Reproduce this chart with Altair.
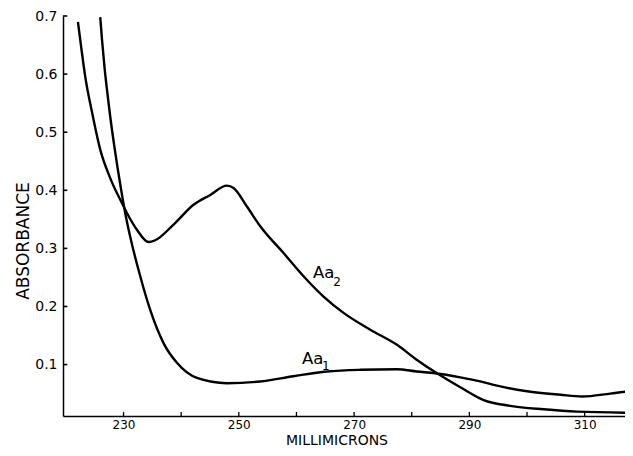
import altair as alt
import pandas as pd

# ---- data ----
AA1_NM = [225.96, 226.27, 226.70, 227.07, 227.69, 228.49, 229.50, 230.29, 231.16, 232.9,
          234.63, 236.94, 239.27, 242.74, 247.94, 253.72, 259.5, 265.29, 271.07, 277.44,
          280.91, 284.09, 288.43, 291.9, 294.2, 300.0, 305.78, 309.54, 314.45, 318.44]
AA1_ABS = [0.698, 0.659, 0.612, 0.578, 0.527, 0.470, 0.406, 0.361, 0.320, 0.252,
           0.194, 0.137, 0.103, 0.077, 0.068, 0.071, 0.080, 0.088, 0.091, 0.092,
           0.088, 0.085, 0.078, 0.071, 0.065, 0.054, 0.048, 0.045, 0.050, 0.055]

AA2_NM = [222.09, 222.61, 223.35, 224.52, 225.96, 227.69, 229.72, 230.59, 232.33, 234.34,
          235.5, 238.68, 242.15, 245.04, 247.94, 249.09, 251.41, 253.72, 257.76, 261.23,
          264.7, 268.17, 272.81, 277.44, 280.91, 284.38, 288.43, 292.47, 297.1, 302.88,
          308.67, 318.44]
AA2_ABS = [0.690, 0.650, 0.596, 0.535, 0.470, 0.421, 0.378, 0.361, 0.332, 0.311,
           0.314, 0.341, 0.375, 0.392, 0.408, 0.404, 0.372, 0.338, 0.292, 0.252,
           0.217, 0.189, 0.160, 0.134, 0.108, 0.085, 0.061, 0.039, 0.029, 0.023,
           0.019, 0.017]

X_LABEL_VALUES = [230, 250, 270, 290, 310]
X_TICK_VALUES = [230, 240, 250, 260, 270, 280, 290, 300, 310]
Y_TICK_VALUES = [0.1, 0.2, 0.3, 0.4, 0.5, 0.6, 0.7]

LABEL_TEXT = ["Aa", "Aa"]
LABEL_NM = [262.87, 260.96]
LABEL_ABS = [0.2498, 0.1008]
SUB_TEXT = ["2", "1"]
SUB_NM = [266.39, 264.43]
SUB_ABS = [0.236, 0.091]

X_DOMAIN = [219.5, 317.0]
Y_DOMAIN = [0.0115, 0.7]

FONT = "DejaVu Sans"

# ---- tables ----
lines_df = pd.DataFrame({
    "nm": AA1_NM + AA2_NM,
    "abs": AA1_ABS + AA2_ABS,
    "series": ["Aa1"] * len(AA1_NM) + ["Aa2"] * len(AA2_NM),
})
labels_df = pd.DataFrame({"nm": LABEL_NM, "abs": LABEL_ABS, "text": LABEL_TEXT})
subs_df = pd.DataFrame({"nm": SUB_NM, "abs": SUB_ABS, "text": SUB_TEXT})
xticks_df = pd.DataFrame({"nm": X_TICK_VALUES,
                          "y0": [Y_DOMAIN[0]] * len(X_TICK_VALUES),
                          "y1": [Y_DOMAIN[0] + 0.007] * len(X_TICK_VALUES)})
yticks_df = pd.DataFrame({"abs": Y_TICK_VALUES,
                          "x0": [X_DOMAIN[0]] * len(Y_TICK_VALUES),
                          "x1": [X_DOMAIN[0] + 0.75] * len(Y_TICK_VALUES)})

xscale = alt.Scale(domain=X_DOMAIN, nice=False, zero=False)
yscale = alt.Scale(domain=Y_DOMAIN, nice=False, zero=False)

x_axis = alt.Axis(values=X_LABEL_VALUES, format="d", title="MILLIMICRONS",
                  ticks=False, tickSize=0, labelPadding=3, labelFontSize=12,
                  labelFont=FONT, labelColor="black",
                  titleFont=FONT, titleFontSize=14, titleFontWeight="normal",
                  titleColor="black", titleX=273.5, titleY=28.5,
                  titleBaseline="alphabetic", titleAnchor="middle", titleAlign="center")
y_axis = alt.Axis(values=Y_TICK_VALUES, format=".1f", title="ABSORBANCE",
                  ticks=False, tickSize=0, labelPadding=6, labelFontSize=14,
                  labelFont=FONT, labelColor="black",
                  titleFont=FONT, titleFontSize=17, titleFontWeight="normal",
                  titleColor="black", titleX=-35, titleY=224.5,
                  titleBaseline="alphabetic", titleAlign="center", titleAngle=270)

lines = alt.Chart(lines_df).mark_line(
    color="black", strokeWidth=2.4, interpolate="monotone", clip=True
).encode(
    x=alt.X("nm:Q", scale=xscale, axis=x_axis),
    y=alt.Y("abs:Q", scale=yscale, axis=y_axis),
    detail="series:N",
)

xticks = alt.Chart(xticks_df).mark_rule(color="black", strokeWidth=1.3).encode(
    x=alt.X("nm:Q", scale=xscale),
    y=alt.Y("y0:Q", scale=yscale),
    y2="y1:Q",
)
yticks = alt.Chart(yticks_df).mark_rule(color="black", strokeWidth=1.6).encode(
    y=alt.Y("abs:Q", scale=yscale),
    x=alt.X("x0:Q", scale=xscale),
    x2="x1:Q",
)

labels = alt.Chart(labels_df).mark_text(
    font=FONT, fontSize=16.5, align="left", baseline="alphabetic", color="black"
).encode(
    x=alt.X("nm:Q", scale=xscale),
    y=alt.Y("abs:Q", scale=yscale),
    text="text:N",
)
subs = alt.Chart(subs_df).mark_text(
    font=FONT, fontSize=12, align="left", baseline="alphabetic", color="black"
).encode(
    x=alt.X("nm:Q", scale=xscale),
    y=alt.Y("abs:Q", scale=yscale),
    text="text:N",
)

chart = alt.layer(lines, xticks, yticks, labels, subs).properties(
    width=562,
    height=400,
    autosize=alt.AutoSizeParams(type="none"),
    padding={"left": 55, "top": 8, "right": 0, "bottom": 32},
    background="white",
).configure_view(stroke=None).configure_axis(
    grid=False, domainColor="black", domainWidth=1.5
)

chart.save("out.html", embed_options={"renderer": "svg", "actions": False})
